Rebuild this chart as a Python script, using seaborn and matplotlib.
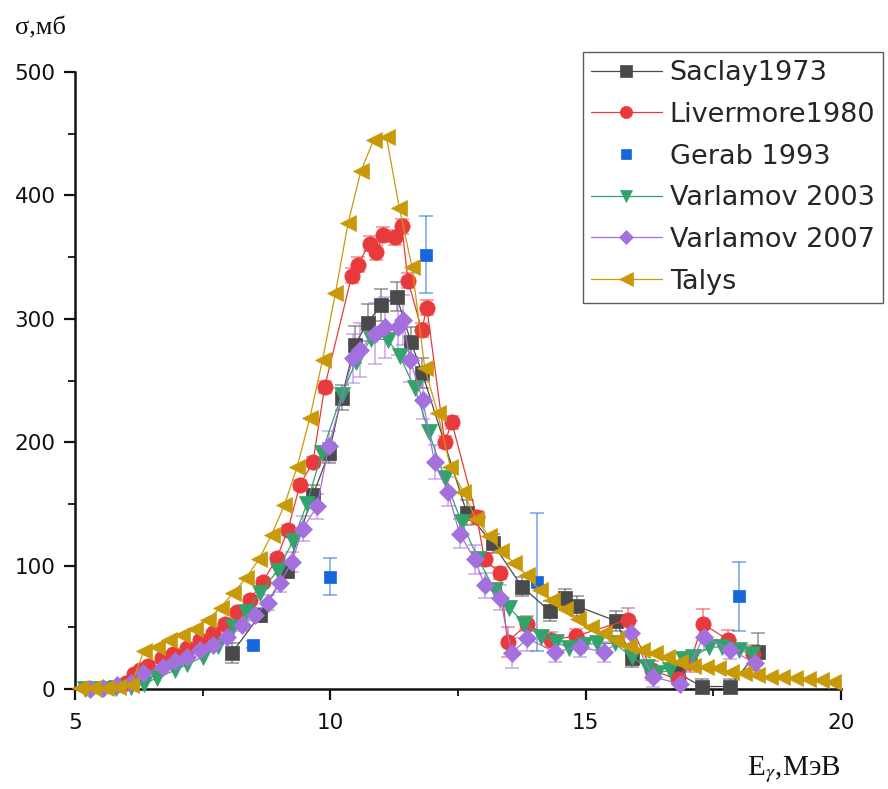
import numpy as np
import pandas as pd
import matplotlib
matplotlib.use("Agg")
import matplotlib.pyplot as plt
from matplotlib.ticker import MultipleLocator
import seaborn as sns

# ---- data: photoneutron cross section, sigma (mb) vs E_gamma (MeV) ----
saclay_e = [8.07, 8.62, 9.15, 9.66, 9.97, 10.22, 10.48, 10.73, 11.0, 11.3, 11.58, 11.8,
            12.67, 13.18, 13.75, 14.3, 14.59, 14.84, 15.6, 15.9, 16.8, 17.27, 17.82, 18.37]
saclay_s = [29, 60, 96, 157, 191, 236, 279, 297, 311, 318, 281, 256,
            143, 118, 83, 63, 74, 67, 55, 25, 13, 2, 2, 30]
saclay_err = [8, 6, 6, 8, 8, 10, 15, 15, 13, 12, 12, 12,
              10, 8, 8, 8, 7, 8, 8, 7, 8, 6, 6, 15]

livermore_e = [6.0, 6.15, 6.27, 6.43, 6.7, 6.92, 7.19, 7.45, 7.7, 7.94, 8.17, 8.42, 8.68,
               8.95, 9.17, 9.4, 9.66, 9.89, 10.42, 10.54, 10.77, 10.9, 11.03, 11.26, 11.4,
               11.52, 11.79, 11.89, 12.24, 12.38, 12.87, 13.02, 13.32, 13.47, 13.86, 14.33,
               14.82, 15.82, 16.3, 16.8, 17.05, 17.29, 17.78, 18.27]
livermore_s = [5, 12, 15, 19, 25, 28, 33, 40, 45, 53, 62, 72, 87,
               106, 129, 165, 184, 245, 335, 344, 361, 354, 368, 366, 375,
               331, 291, 309, 200, 216, 139, 105, 94, 38, 53, 40,
               43, 56, 15, 8, 22, 53, 40, 28]
livermore_err = [2, 2, 2, 2, 2, 2, 2, 2, 2, 3, 3, 3, 3,
                 3, 4, 4, 4, 5, 6, 6, 6, 6, 6, 6, 6,
                 6, 6, 6, 5, 5, 5, 5, 5, 12, 6, 6,
                 6, 10, 8, 8, 8, 12, 8, 8]

gerab_e = [8.48, 9.99, 11.88, 14.04, 18.0]
gerab_s = [36, 91, 352, 87, 75]
gerab_err = [3, 15, 31, 56, 28]

varl03_e = [5.2, 5.5, 5.8, 6.1, 6.35, 6.6, 6.95, 7.2, 7.5, 7.8, 8.1, 8.35, 8.62, 8.97,
            9.27, 9.54, 9.83, 10.22, 10.5, 10.8, 11.12, 11.36, 11.65, 11.93, 12.24,
            12.57, 12.9, 13.22, 13.5, 13.8, 14.13, 14.42, 14.68, 14.97, 15.23, 15.57,
            15.9, 16.2, 16.4, 16.65, 16.9, 17.1, 17.42, 17.66, 18.0, 18.25]
varl03_s = [0, 0, 1, 2, 4, 9, 15, 20, 26, 35, 50, 62, 78, 96,
            120, 150, 191, 238, 265, 284, 283, 270, 244, 208, 171,
            135, 105, 80, 66, 53, 42, 38, 33, 36, 37, 37,
            26, 18, 13, 15, 24, 26, 34, 34, 32, 28]

varl07_e = [5.3, 5.55, 5.82, 6.1, 6.33, 6.72, 6.96, 7.19, 7.45, 7.7, 7.97, 8.27, 8.52,
            8.78, 9.01, 9.25, 9.46, 9.74, 9.97, 10.44, 10.58, 10.87, 11.07, 11.32, 11.42,
            11.56, 11.81, 12.04, 12.3, 12.53, 12.83, 13.02, 13.32, 13.55, 13.86, 14.39,
            14.88, 15.36, 15.88, 16.32, 16.84, 17.31, 17.82, 18.32]
varl07_s = [0, 1, 3, 5, 13, 18, 23, 26, 32, 36, 42, 52, 60,
            70, 86, 103, 130, 148, 197, 268, 275, 288, 293, 293, 299,
            267, 234, 184, 160, 126, 105, 84, 74, 29, 41, 30,
            34, 30, 45, 10, 4, 42, 32, 21]
varl07_err = [1, 1, 1, 2, 3, 3, 3, 3, 4, 4, 4, 5, 5,
              6, 7, 8, 10, 10, 12, 20, 22, 25, 25, 22, 20,
              18, 15, 14, 12, 12, 12, 10, 10, 12, 10, 8,
              8, 8, 10, 8, 6, 10, 8, 8]

talys_e = [5.1, 5.35, 5.6, 5.85, 6.1, 6.35, 6.6, 6.85, 7.1, 7.35, 7.6, 7.85, 8.1, 8.35,
           8.6, 8.85, 9.1, 9.35, 9.6, 9.85, 10.1, 10.35, 10.6, 10.85, 11.1, 11.35, 11.6,
           11.85, 12.1, 12.35, 12.6, 12.85, 13.1, 13.35, 13.6, 13.85, 14.1, 14.35, 14.6,
           14.85, 15.1, 15.35, 15.6, 15.85, 16.1, 16.35, 16.6, 16.85, 17.1, 17.35, 17.6,
           17.85, 18.1, 18.35, 18.6, 18.85, 19.1, 19.35, 19.6, 19.85]
talys_s = [1, 1, 1, 2, 3, 31, 34, 40, 44, 49, 56, 66, 78, 90,
           105, 125, 149, 180, 220, 267, 321, 378, 420, 445, 447, 390, 342,
           260, 224, 180, 160, 138, 124, 112, 102, 92, 80, 72, 65,
           57, 50, 45, 40, 35, 32, 29, 26, 22, 19, 18, 17,
           14, 13, 11, 10, 10, 9, 8, 7, 6]

x_ticks = [5, 10, 15, 20]
y_ticks = [0, 100, 200, 300, 400, 500]

# ---- figure ----
sns.set_style("ticks")
plt.rcParams["font.family"] = ["DejaVu Sans"]

fig = plt.figure(figsize=(8.88, 7.89), dpi=100)
ax = fig.add_axes([75 / 888, 1 - 689 / 789, (841 - 75) / 888, (689 - 72) / 789])

series = [
    ("Saclay1973", saclay_e, saclay_s, saclay_err, "s", "#4a4a4a", 10, "-"),
    ("Livermore1980", livermore_e, livermore_s, livermore_err, "o", "#e83a3c", 11, "-"),
    ("Gerab 1993", gerab_e, gerab_s, gerab_err, "s", "#1666dc", 9, "none"),
    ("Varlamov 2003", varl03_e, varl03_s, None, "v", "#33a36c", 11, "-"),
    ("Varlamov 2007", varl07_e, varl07_s, varl07_err, "D", "#a470dd", 9.5, "-"),
    ("Talys", talys_e, talys_s, None, "<", "#c99a08", 12, "-"),
]

for name, e, s, err, mk, col, ms, ls in series:
    if err is not None:
        ax.errorbar(e, s, yerr=err, fmt="none", ecolor=col, elinewidth=1.1,
                    capsize=5, capthick=1.1, alpha=0.6, zorder=2)
    df = pd.DataFrame({"E": e, "sigma": s})
    sns.lineplot(data=df, x="E", y="sigma", ax=ax, sort=False, estimator=None,
                 color=col, linewidth=0.9, linestyle=ls, marker=mk, markersize=ms,
                 markeredgecolor=col, markeredgewidth=0.5, label=name,
                 clip_on=False, zorder=3)

ax.set_xlim(5, 20)
ax.set_ylim(0, 500)
ax.set_xticks(x_ticks)
ax.set_yticks(y_ticks)
ax.xaxis.set_minor_locator(MultipleLocator(2.5))
ax.yaxis.set_minor_locator(MultipleLocator(50))
ax.set_xlabel("")
ax.set_ylabel("")
sns.despine(ax=ax)
for sp in ("left", "bottom"):
    ax.spines[sp].set_linewidth(1.8)
    ax.spines[sp].set_color("#111111")
ax.tick_params(axis="both", which="major", direction="out", length=8, width=1.6,
               labelsize=15.5, colors="#111111", pad=6)
ax.tick_params(axis="both", which="minor", direction="out", length=5, width=1.3,
               colors="#111111")
ax.tick_params(axis="x", which="major", pad=9)

fig.text(15 / 888, 1 - 28 / 789, "σ,мб", family="Liberation Serif", fontsize=19,
         va="center", ha="left", color="#111111")
fig.text(841 / 888, 1 - 770 / 789, r"E$_{\gamma}$,МэВ", family="Liberation Serif",
         fontsize=21, va="center", ha="right", color="#111111",
         math_fontfamily="stix")

leg = ax.legend(loc="upper left", bbox_to_anchor=(583 / 888, 1 - 52 / 789),
                bbox_transform=fig.transFigure, fontsize=19.5, frameon=True,
                fancybox=False, edgecolor="#333333", handlelength=2.6,
                handletextpad=0.3, labelspacing=0.58, borderpad=0.3,
                markerscale=0.8, borderaxespad=0)
leg.get_frame().set_linewidth(1.0)

fig.savefig("out.png", dpi=100)
